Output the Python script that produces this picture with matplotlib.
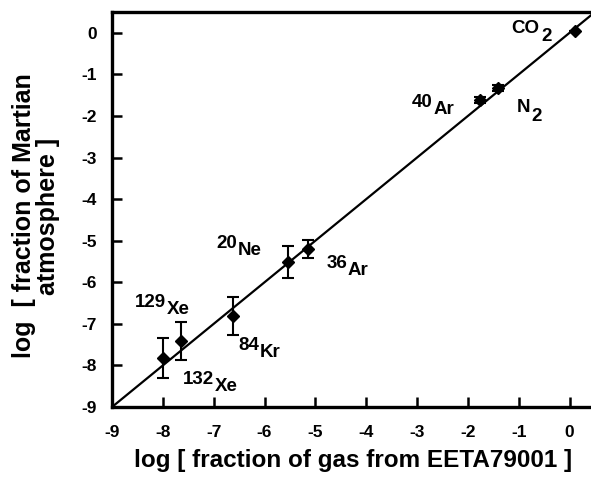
import matplotlib
matplotlib.use("Agg")
import matplotlib.pyplot as plt
import numpy as np

plt.rcParams['font.family'] = ['Liberation Sans', 'DejaVu Sans']
plt.rcParams['font.weight'] = 'bold'
plt.rcParams['axes.unicode_minus'] = False

# log fractions: meteorite gas (x) vs Martian atmosphere (y)
species = ['132Xe', '129Xe', '84Kr', '20Ne', '36Ar', '40Ar', 'N2', 'CO2']
x_gas = [-8.0, -7.65, -6.63, -5.53, -5.14, -1.76, -1.41, 0.1]
y_atm = [-7.82, -7.41, -6.81, -5.51, -5.2, -1.62, -1.33, 0.04]
y_err = [0.48, 0.45, 0.45, 0.38, 0.22, 0.08, 0.08, 0.0]

# label parts: (mass number, element, subscript, text position)
labels = [
    ('132', 'Xe', '', (-7.61, -8.45)),
    ('129', 'Xe', '', (-8.55, -6.60)),
    ('84', 'Kr', '', (-6.51, -7.63)),
    ('20', 'Ne', '', (-6.94, -5.18)),
    ('36', 'Ar', '', (-4.78, -5.66)),
    ('40', 'Ar', '', (-3.10, -1.79)),
    ('', 'N', '2', (-1.04, -1.91)),
    ('', 'CO', '2', (-1.14, 0.0)),
]

fig = plt.figure(figsize=(5.91, 4.78), dpi=100)
ax = fig.add_axes([0.1895, 0.1485, 0.8105, 0.8265])

line = np.array([-9, 0.5])
ax.plot(line, line, color='black', lw=1.6, zorder=2)
ax.errorbar(x_gas, y_atm, yerr=y_err, fmt='D', color='black', ms=6.5,
            ecolor='black', elinewidth=1.5, capsize=4, capthick=1.5, zorder=3)

fs = 13.5
for pre, el, sub, (tx, ty) in labels:
    if pre:
        t = ax.text(tx, ty, pre, fontsize=fs, fontweight='bold', va='baseline')
        t2 = ax.annotate(el, xy=(1, 0), xycoords=t, xytext=(0.5, -5),
                         textcoords='offset points', fontsize=fs,
                         fontweight='bold', va='bottom')
    else:
        t2 = ax.text(tx, ty, el, fontsize=fs, fontweight='bold', va='baseline')
    if sub:
        ax.annotate(sub, xy=(1, 0), xycoords=t2, xytext=(1, -6),
                    textcoords='offset points', fontsize=fs,
                    fontweight='bold', va='bottom')

ax.set_xlim(-9, 0.42)
ax.set_ylim(-9, 0.5)
ax.set_xticks(range(-9, 1))
ax.set_yticks(range(-9, 1))
ax.tick_params(direction='in', length=7, width=1.8, labelsize=12.5)
ax.tick_params(axis='x', pad=13)
ax.tick_params(axis='y', pad=11)
for lab in ax.get_xticklabels() + ax.get_yticklabels():
    lab.set_fontweight('bold')
for side in ['left', 'bottom', 'top']:
    ax.spines[side].set_linewidth(2.4)
ax.spines['right'].set_visible(False)

fig.text(353 / 591, 1 - 460 / 478, 'log [ fraction of gas from EETA79001 ]',
         fontsize=17.5, fontweight='bold', ha='center', va='center')
fig.text(36 / 591, 1 - 216 / 478, 'log  [ fraction of Martian\natmosphere ]',
         fontsize=18, fontweight='bold', ha='center', va='center',
         rotation=90, linespacing=0.95)

fig.savefig('out.png', dpi=100)
